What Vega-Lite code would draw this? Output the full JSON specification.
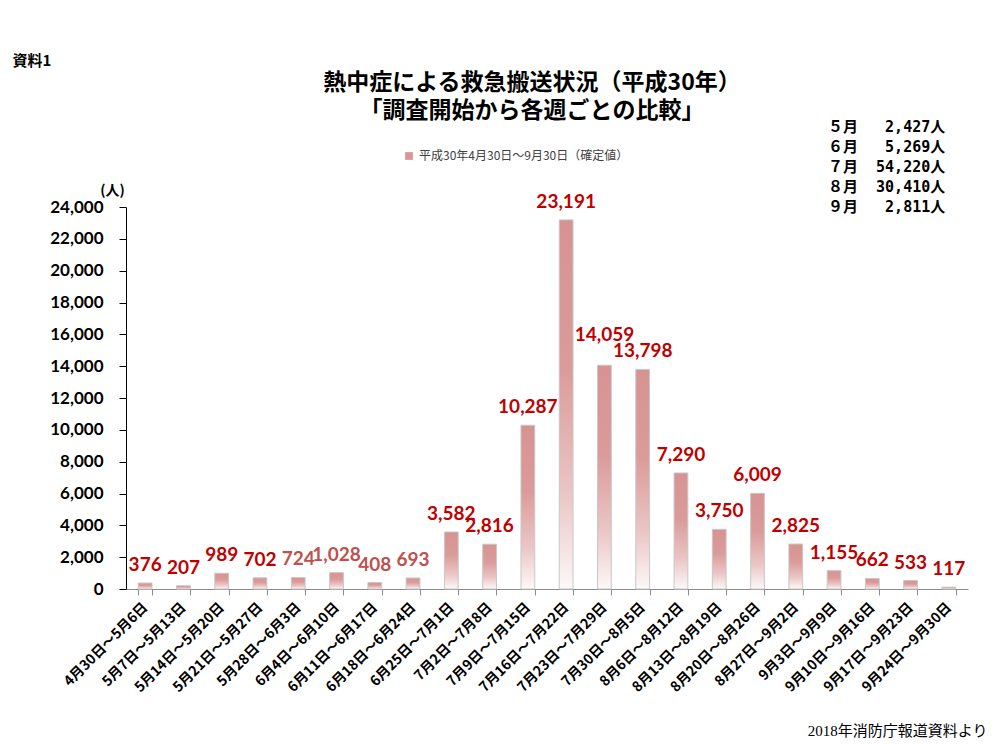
{
  "$schema": "https://vega.github.io/schema/vega-lite/v6.json",
  "autosize": {"type": "none"},
  "padding": {"left": 126, "top": 207, "right": 27, "bottom": 156},
  "width": 842,
  "height": 382,
  "background": "white",
  "config": {"view": {"stroke": null}},
  "title": {
    "text": ["熱中症による救急搬送状況（平成30年）", "「調査開始から各週ごとの比較」"],
    "font": "Noto Sans CJK JP",
    "fontSize": 23,
    "fontWeight": "bold",
    "color": "#000000",
    "anchor": "middle",
    "lineHeight": 28,
    "dx": -15,
    "offset": 0,
    "dy": 70
  },
  "datasets": {
    "weekly": [
      {"week": "4月30日～5月6日", "count": 376},
      {"week": "5月7日～5月13日", "count": 207},
      {"week": "5月14日～5月20日", "count": 989},
      {"week": "5月21日～5月27日", "count": 702},
      {"week": "5月28日～6月3日", "count": 724},
      {"week": "6月4日～6月10日", "count": 1028},
      {"week": "6月11日～6月17日", "count": 408},
      {"week": "6月18日～6月24日", "count": 693},
      {"week": "6月25日～7月1日", "count": 3582},
      {"week": "7月2日～7月8日", "count": 2816},
      {"week": "7月9日～7月15日", "count": 10287},
      {"week": "7月16日～7月22日", "count": 23191},
      {"week": "7月23日～7月29日", "count": 14059},
      {"week": "7月30日～8月5日", "count": 13798},
      {"week": "8月6日～8月12日", "count": 7290},
      {"week": "8月13日～8月19日", "count": 3750},
      {"week": "8月20日～8月26日", "count": 6009},
      {"week": "8月27日～9月2日", "count": 2825},
      {"week": "9月3日～9月9日", "count": 1155},
      {"week": "9月10日～9月16日", "count": 662},
      {"week": "9月17日～9月23日", "count": 533},
      {"week": "9月24日～9月30日", "count": 117}
    ],
    "monthly": [
      {"month": "５月", "total": 2427, "row": "５月\u00a0\u00a0\u00a02,427人"},
      {"month": "６月", "total": 5269, "row": "６月\u00a0\u00a0\u00a05,269人"},
      {"month": "７月", "total": 54220, "row": "７月\u00a0\u00a054,220人"},
      {"month": "８月", "total": 30410, "row": "８月\u00a0\u00a030,410人"},
      {"month": "９月", "total": 2811, "row": "９月\u00a0\u00a0\u00a02,811人"}
    ]
  },
  "resolve": {"axis": {"x": "independent", "y": "independent"}},
  "layer": [
    {
      "data": {"name": "weekly"},
      "mark": {
        "type": "bar",
        "stroke": "#c8c8c8",
        "strokeWidth": 1,
        "color": {
          "gradient": "linear",
          "x1": 0, "y1": 0, "x2": 0, "y2": 1,
          "stops": [
            {"offset": 0, "color": "#d79391"},
            {"offset": 0.4, "color": "#da9b99"},
            {"offset": 0.75, "color": "#ebc7c6"},
            {"offset": 1, "color": "#fdf8f8"}
          ]
        }
      },
      "encoding": {
        "x": {
          "field": "week",
          "type": "nominal",
          "sort": null,
          "scale": {"paddingInner": 0.64, "paddingOuter": 0.32},
          "axis": {
            "orient": "bottom",
            "title": "2018年消防庁報道資料より",
            "titleFont": "Liberation Serif, Noto Sans CJK JP",
            "titleFontSize": 15,
            "titleFontWeight": "normal",
            "titleColor": "#000000",
            "titleX": 861,
            "titleY": 141,
            "titleAlign": "right",
            "titleBaseline": "middle",
            "titleAnchor": null,
            "domainColor": "#8c8c8c",
            "tickColor": "#8c8c8c",
            "tickSize": 6,
            "tickBand": "extent",
            "labelAngle": -45,
            "labelAlign": "right",
            "labelBaseline": "middle",
            "labelPadding": 10,
            "labelFont": "Noto Sans CJK JP",
            "labelFontWeight": "bold",
            "labelFontSize": 14,
            "labelColor": "#000000",
            "labelOverlap": false,
            "labelLimit": 300
          }
        },
        "y": {
          "field": "count",
          "type": "quantitative",
          "title": "(人)",
          "scale": {"domain": [0, 24000], "nice": false},
          "axis": {
            "orient": "left",
            "values": [0, 2000, 4000, 6000, 8000, 10000, 12000, 14000, 16000, 18000, 20000, 22000, 24000],
            "format": ",d",
            "grid": false,
            "labelOverlap": false,
            "labelBound": false,
            "domainColor": "#000000",
            "tickColor": "#000000",
            "tickSize": 7,
            "labelPadding": 16,
            "labelFont": "Lato",
            "labelFontWeight": "bold",
            "labelFontSize": 17,
            "labelColor": "#000000",
            "titleAngle": 0,
            "titleX": -14,
            "titleY": -17,
            "titleAlign": "center",
            "titleBaseline": "middle",
            "titleFont": "Noto Sans CJK JP",
            "titleFontSize": 14,
            "titleFontWeight": "bold",
            "titleColor": "#000000"
          }
        }
      }
    },
    {
      "data": {"name": "weekly"},
      "mark": {"type": "square", "opacity": 0},
      "encoding": {
        "x": {
          "field": "week",
          "type": "nominal",
          "sort": null,
          "axis": {
            "orient": "top",
            "labels": false,
            "ticks": false,
            "domain": false,
            "title": "資料1",
            "titleFont": "Noto Sans CJK JP",
            "titleFontSize": 15,
            "titleFontWeight": "bold",
            "titleColor": "#000000",
            "titleX": -114,
            "titleY": -147,
            "titleAlign": "left",
            "titleBaseline": "middle",
            "titleAnchor": null
          }
        },
        "y": {"field": "count", "type": "quantitative", "axis": null},
        "color": {
          "datum": "平成30年4月30日～9月30日（確定値）",
          "scale": {"range": ["#d99694"]},
          "legend": {
            "orient": "none",
            "legendX": 277,
            "legendY": -57,
            "title": null,
            "symbolType": "square",
            "symbolSize": 60,
            "symbolOpacity": 1,
            "symbolStrokeWidth": 0,
            "labelFont": "Noto Sans CJK JP",
            "labelFontSize": 12,
            "labelColor": "#404040",
            "labelOffset": 4,
            "labelLimit": 400
          }
        }
      }
    },
    {
      "data": {"name": "monthly"},
      "mark": {"type": "point", "opacity": 0},
      "encoding": {
        "shape": {
          "field": "row",
          "type": "nominal",
          "sort": null,
          "legend": {
            "orient": "none",
            "legendX": 687,
            "legendY": -88,
            "title": null,
            "symbolOpacity": 0,
            "symbolSize": 1,
            "symbolStrokeWidth": 0,
            "labelOffset": 0,
            "labelFont": "DejaVu Sans Mono, Noto Sans CJK JP",
            "labelFontSize": 15,
            "labelFontWeight": "bold",
            "labelColor": "#000000",
            "labelLimit": 400,
            "rowPadding": 4
          }
        }
      }
    },
    {
      "data": {"name": "weekly"},
      "transform": [{"filter": "datum.week !== '7月23日～7月29日'"}],
      "mark": {
        "type": "text",
        "font": "Lato",
        "fontWeight": "bold",
        "fontSize": 19,
        "baseline": "middle",
        "dy": -18
      },
      "encoding": {
        "x": {"field": "week", "type": "nominal", "sort": null, "axis": null},
        "y": {"field": "count", "type": "quantitative", "axis": null},
        "text": {"field": "count", "type": "quantitative", "format": ","},
        "color": {
          "condition": {
            "test": "indexof(['5月28日～6月3日','6月4日～6月10日','6月11日～6月17日','6月18日～6月24日'], datum.week) >= 0",
            "value": "#c0504d"
          },
          "value": "#c00000"
        }
      }
    },
    {
      "data": {"name": "weekly"},
      "transform": [{"filter": "datum.week === '7月23日～7月29日'"}],
      "mark": {
        "type": "text",
        "font": "Lato",
        "fontWeight": "bold",
        "fontSize": 19,
        "baseline": "middle",
        "dy": -30,
        "color": "#c00000"
      },
      "encoding": {
        "x": {"field": "week", "type": "nominal", "sort": null, "axis": null},
        "y": {"field": "count", "type": "quantitative", "axis": null},
        "text": {"field": "count", "type": "quantitative", "format": ","}
      }
    }
  ]
}
